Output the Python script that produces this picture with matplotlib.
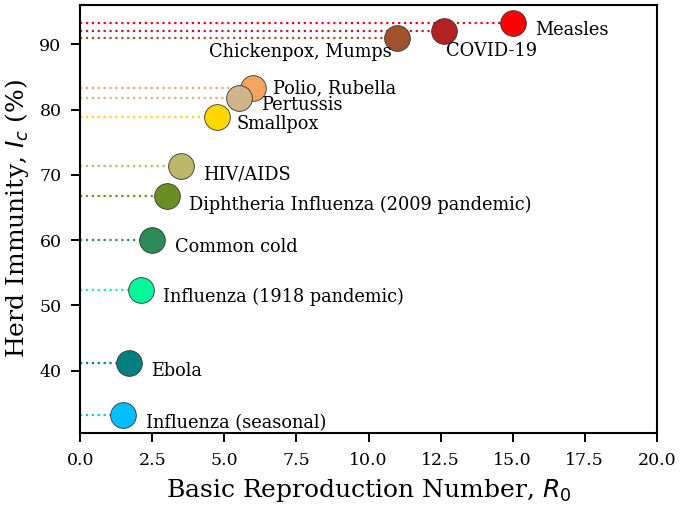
import matplotlib
matplotlib.use("Agg")
import matplotlib.pyplot as plt

diseases = ["Measles", "COVID-19", "Chickenpox, Mumps", "Polio, Rubella", "Pertussis",
            "Smallpox", "HIV/AIDS", "Diphtheria Influenza (2009 pandemic)", "Common cold",
            "Influenza (1918 pandemic)", "Ebola", "Influenza (seasonal)"]
r0 = [15.0, 12.6, 11.0, 6.0, 5.5, 4.75, 3.5, 3.0, 2.5, 2.1, 1.7, 1.5]
herd = [93.3, 92.1, 90.9, 83.3, 81.8, 78.9, 71.4, 66.7, 60.0, 52.4, 41.2, 33.3]
colors = ["red", "firebrick", "sienna", "sandybrown", "tan", "gold", "darkkhaki",
          "olivedrab", "seagreen", "mediumspringgreen", "teal", "deepskyblue"]
# label offsets in points (dx, dy) and alignment
offsets = [(16, -5, "left"), (2, -15, "left"), (-4, -10, "right"), (14, 0, "left"),
           (16, -5, "left"), (14, -5, "left"), (16, -6, "left"), (16, -6, "left"),
           (16, -5, "left"), (16, -5, "left"), (16, -6, "left"), (16, -6, "left")]

plt.rcParams["font.family"] = "DejaVu Serif"
fig = plt.figure(figsize=(6.8, 5.08), dpi=100)
ax = fig.add_axes([0.118, 0.148, 0.848, 0.842])

for name, x, y, c, (dx, dy, ha) in zip(diseases, r0, herd, colors, offsets):
    ax.plot([0, x], [y, y], ls=":", color=c, lw=1.6, zorder=1)
    ax.plot([x], [y], "o", ms=18.5, color=c, mec="#333333", mew=0.6, zorder=3)
    ax.annotate(name, (x, y), xytext=(dx, dy), textcoords="offset points",
                ha=ha, va="center", fontsize=12.8)

ax.set_xlim(0, 20)
ax.set_ylim(30.5, 96)
ax.set_xticks([0, 2.5, 5, 7.5, 10, 12.5, 15, 17.5, 20])
ax.set_yticks([40, 50, 60, 70, 80, 90])
ax.tick_params(labelsize=12.5, length=6.5, width=1.4, pad=7)
for s in ax.spines.values():
    s.set_linewidth(1.5)
ax.set_xlabel("Basic Reproduction Number, $R_0$", fontsize=18, labelpad=6)
ax.set_ylabel("Herd Immunity, $I_c$ (%)", fontsize=18, labelpad=6)
fig.savefig("out.png", dpi=100)
